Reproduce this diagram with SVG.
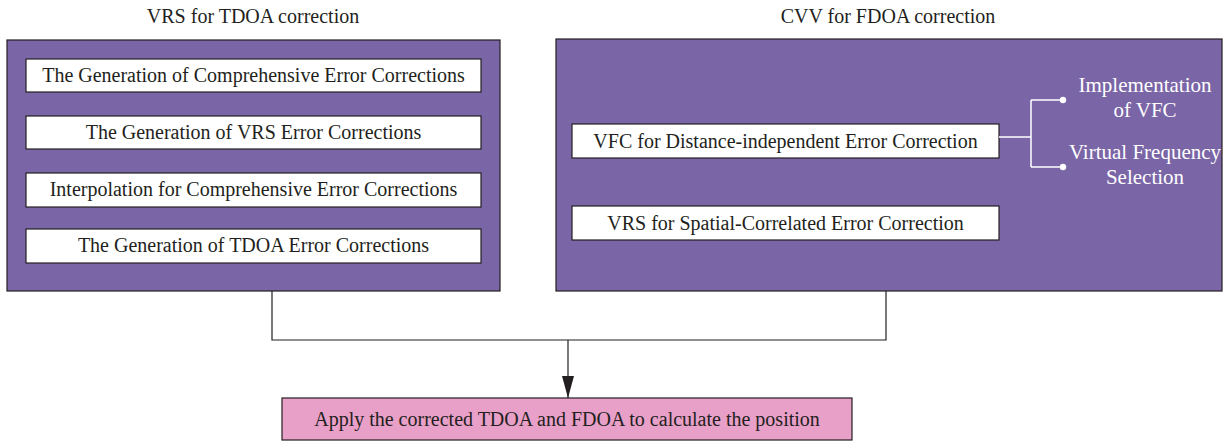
<svg xmlns="http://www.w3.org/2000/svg" width="1232" height="445" viewBox="0 0 1232 445" font-family="'Liberation Serif', 'Times New Roman', serif">
<style>
.title{font-size:20px;fill:#231f20;text-anchor:middle;}
.panel{fill:#7a65a6;stroke:#231f20;stroke-width:1.2;}
.box{fill:#ffffff;stroke:#231f20;stroke-width:1.2;}
.lbl{font-size:20px;fill:#231f20;text-anchor:middle;}
.wlbl{font-size:21px;fill:#ffffff;text-anchor:middle;}
.pink{fill:#e9a0c8;stroke:#231f20;stroke-width:1.2;}
.conn{fill:none;stroke:#231f20;stroke-width:1.2;}
.wconn{fill:none;stroke:#ffffff;stroke-width:1.5;}
</style>
<defs>
<marker id="arr" markerWidth="22" markerHeight="12" refX="22" refY="6" orient="auto" markerUnits="userSpaceOnUse" viewBox="0 0 22 12">
<path d="M0,0 L22,6 L0,12 Z" fill="#231f20"/>
</marker>
</defs>
<text class="title" x="253" y="23">VRS for TDOA correction</text>
<text class="title" x="888" y="23">CVV for FDOA correction</text>
<g id="left-panel">
<rect class="panel" x="7" y="40" width="493" height="251"/>
</g>
<g id="box-comprehensive">
<rect class="box" x="26" y="59" width="455" height="33"/>
<text class="lbl" x="253.5" y="82">The Generation of Comprehensive Error Corrections</text>
</g>
<g id="box-vrs">
<rect class="box" x="26" y="116" width="455" height="33"/>
<text class="lbl" x="253.5" y="139">The Generation of VRS Error Corrections</text>
</g>
<g id="box-interp">
<rect class="box" x="26" y="173" width="455" height="34"/>
<text class="lbl" x="253.5" y="196">Interpolation for Comprehensive Error Corrections</text>
</g>
<g id="box-tdoa">
<rect class="box" x="26" y="229" width="455" height="34"/>
<text class="lbl" x="253.5" y="252">The Generation of TDOA Error Corrections</text>
</g>
<g id="right-panel">
<rect class="panel" x="556" y="39" width="666" height="252"/>
</g>
<g id="box-vfc">
<rect class="box" x="572" y="124" width="427" height="34"/>
<text class="lbl" x="785.5" y="148">VFC for Distance-independent Error Correction</text>
</g>
<g id="box-vrs-spatial">
<rect class="box" x="572" y="206" width="427" height="34"/>
<text class="lbl" x="785.5" y="230">VRS for Spatial-Correlated Error Correction</text>
</g>
<g id="impl-vfc">
<circle cx="1063" cy="100" r="3.2" fill="#ffffff"/>
<text class="wlbl" x="1145" y="92">Implementation</text>
<text class="wlbl" x="1145" y="117">of VFC</text>
</g>
<g id="virtual-freq">
<circle cx="1063" cy="167" r="3.2" fill="#ffffff"/>
<text class="wlbl" x="1145" y="159">Virtual Frequency</text>
<text class="wlbl" x="1145" y="184">Selection</text>
</g>
<g id="final-box">
<rect class="pink" x="282" y="398" width="570" height="42"/>
<text class="lbl" x="567" y="426">Apply the corrected TDOA and FDOA to calculate the position</text>
</g>
<g id="connectors">
<path class="wconn" d="M999,137 H1031 M1031,100 V167 M1031,100 H1063 M1031,167 H1063"/>
<path class="conn" d="M272,291 V340 H886 V291"/>
<path class="conn" d="M568,340 V398" marker-end="url(#arr)"/>
</g>
</svg>
